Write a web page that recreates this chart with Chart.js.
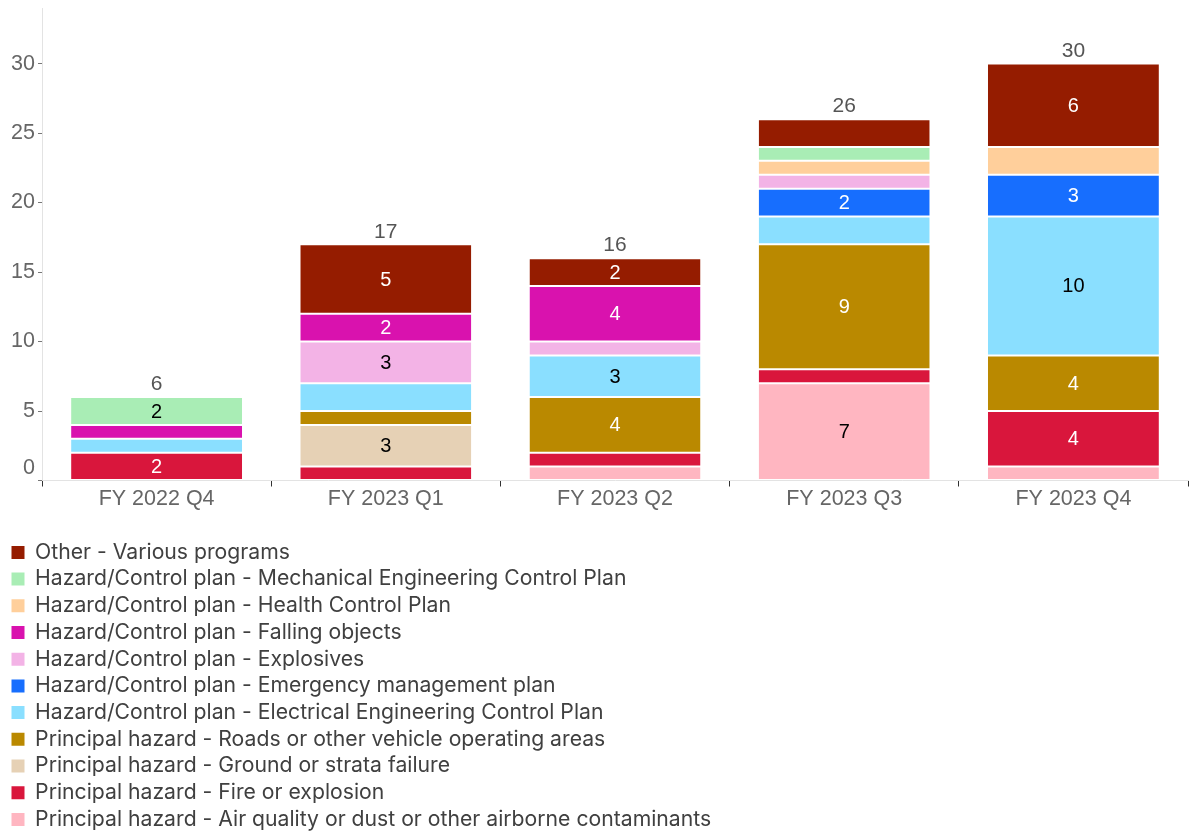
<!DOCTYPE html>
<html>
<head>
<meta charset="utf-8">
<title>Notices by type and quarter</title>
<script src="https://cdn.jsdelivr.net/npm/chart.js@4.4.1/dist/chart.umd.min.js"></script>
<style>
  html, body { margin: 0; padding: 0; background: #ffffff; }
  #wrap { width: 1192px; height: 832px; position: relative; }
</style>
</head>
<body>
<div id="wrap"><canvas id="chart"></canvas></div>
<script>
// Reporting quarters
const categories = ['FY 2022 Q4', 'FY 2023 Q1', 'FY 2023 Q2', 'FY 2023 Q3', 'FY 2023 Q4'];

// Counts per quarter, one array per type (stacked bottom to top)
const airQuality    = [0, 0, 1, 7, 1];
const fireExplosion = [2, 1, 1, 1, 4];
const groundStrata  = [0, 3, 0, 0, 0];
const roadsVehicle  = [0, 1, 4, 9, 4];
const electrical    = [1, 2, 3, 2, 10];
const emergency     = [0, 0, 0, 2, 3];
const explosives    = [0, 3, 1, 1, 0];
const fallingObj    = [1, 2, 4, 0, 0];
const healthPlan    = [0, 0, 0, 1, 2];
const mechanical    = [2, 0, 0, 1, 0];
const otherProg     = [0, 5, 2, 2, 6];

// Segments left without an in-bar value label: "seriesIndex:categoryIndex"
const unlabeledSegments = ['4:1', '4:3', '10:3', '8:4'];

// Y axis tick values
const yTicks = [0, 5, 10, 15, 20, 25, 30];

const series = [
  { label: 'Principal hazard - Air quality or dust or other airborne contaminants', data: airQuality, color: '#ffb6c1', text: '#000000' },
  { label: 'Principal hazard - Fire or explosion', data: fireExplosion, color: '#d9163c', text: '#ffffff' },
  { label: 'Principal hazard - Ground or strata failure', data: groundStrata, color: '#e6d1b5', text: '#000000' },
  { label: 'Principal hazard - Roads or other vehicle operating areas', data: roadsVehicle, color: '#ba8900', text: '#ffffff' },
  { label: 'Hazard/Control plan - Electrical Engineering Control Plan', data: electrical, color: '#8adfff', text: '#000000' },
  { label: 'Hazard/Control plan - Emergency management plan', data: emergency, color: '#176efe', text: '#ffffff' },
  { label: 'Hazard/Control plan - Explosives', data: explosives, color: '#f3b3e6', text: '#000000' },
  { label: 'Hazard/Control plan - Falling objects', data: fallingObj, color: '#d912ae', text: '#ffffff' },
  { label: 'Hazard/Control plan - Health Control Plan', data: healthPlan, color: '#ffcf9b', text: '#000000' },
  { label: 'Hazard/Control plan - Mechanical Engineering Control Plan', data: mechanical, color: '#a9edb5', text: '#000000' },
  { label: 'Other - Various programs', data: otherProg, color: '#951c00', text: '#ffffff' }
];

const totals = categories.map((_, i) => series.reduce((s, d) => s + d.data[i], 0));

const AXIS_FONT = "'Liberation Sans', Arial, sans-serif";
const LEGEND_FONT = "Inter, 'Noto Sans', sans-serif";

// Segment values inside the bars
const segmentLabels = {
  id: 'segmentLabels',
  afterDatasetsDraw(chart) {
    const ctx = chart.ctx;
    ctx.save();
    ctx.font = '20px ' + AXIS_FONT;
    ctx.textAlign = 'center';
    ctx.textBaseline = 'middle';
    chart.data.datasets.forEach((ds, di) => {
      const meta = chart.getDatasetMeta(di);
      meta.data.forEach((bar, i) => {
        const v = ds.data[i];
        if (v >= 2 && !unlabeledSegments.includes(di + ':' + i)) {
          const p = bar.getProps(['x', 'y', 'base'], true);
          ctx.fillStyle = series[di].text;
          ctx.fillText(String(v), p.x, (p.y + p.base) / 2 + 1);
        }
      });
    });
    ctx.restore();
  }
};

// Totals above each stack
const totalLabels = {
  id: 'totalLabels',
  afterDatasetsDraw(chart) {
    const ctx = chart.ctx;
    const xs = chart.scales.x, ys = chart.scales.y;
    ctx.save();
    ctx.font = '21px ' + AXIS_FONT;
    ctx.fillStyle = '#555555';
    ctx.textAlign = 'center';
    ctx.textBaseline = 'middle';
    totals.forEach((t, i) => {
      ctx.fillText(String(t), xs.getPixelForValue(i), ys.getPixelForValue(t) - 12.5);
    });
    ctx.restore();
  }
};

new Chart(document.getElementById('chart'), {
  type: 'bar',
  data: {
    labels: categories,
    datasets: series.map(s => ({
      label: s.label,
      data: s.data,
      backgroundColor: s.color,
      borderColor: '#ffffff',
      borderWidth: { top: 1, bottom: 1, left: 0, right: 0 },
      borderSkipped: false,
      categoryPercentage: 1,
      barPercentage: 0.746
    }))
  },
  options: {
    responsive: true,
    maintainAspectRatio: false,
    animation: false,
    layout: { padding: { left: 6, right: 4, top: 8, bottom: -8 } },
    scales: {
      x: {
        stacked: true,
        grid: { drawOnChartArea: false, tickLength: 6, tickColor: '#333333', offset: true },
        border: { display: true, color: '#e3e3e3' },
        ticks: { color: '#666666', padding: 0, font: { family: AXIS_FONT, size: 21.5 } },
        afterFit(scale) { scale.height += 24; }
      },
      y: {
        stacked: true,
        min: 0,
        max: 34,
        grid: { drawOnChartArea: false, tickLength: 4, tickColor: '#777777' },
        border: { display: true, color: '#e3e3e3' },
        afterBuildTicks(scale) {
          scale.ticks = yTicks.map(v => ({ value: v }));
        },
        ticks: {
          color: '#666666',
          padding: 3,
          font: { family: AXIS_FONT, size: 21.5 },
          callback: v => (v === 0 ? ['0', ''] : String(v))
        },
        afterFit(scale) {
          scale.width = 36;
          scale.paddingTop = 0;
          scale.paddingBottom = 0;
        }
      }
    },
    plugins: {
      tooltip: { enabled: false },
      legend: {
        position: 'bottom',
        align: 'start',
        reverse: true,
        labels: {
          boxWidth: 13,
          boxHeight: 13,
          padding: 5.5,
          color: '#404040',
          font: { family: LEGEND_FONT, size: 21.2 },
          generateLabels(chart) {
            const items = Chart.defaults.plugins.legend.labels.generateLabels(chart);
            // trailing spaces keep every entry on its own row
            items.forEach(it => { it.text = it.text + '\u00A0'.repeat(90); it.lineWidth = 0; });
            return items;
          }
        }
      }
    }
  },
  plugins: [segmentLabels, totalLabels]
});
</script>
</body>
</html>
